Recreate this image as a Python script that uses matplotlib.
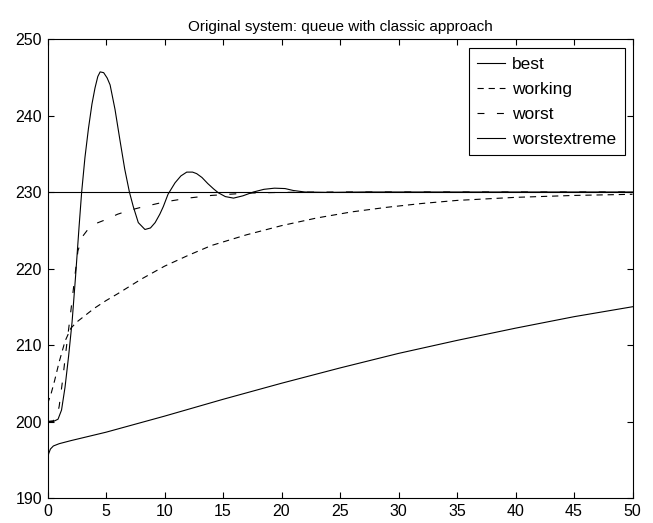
import numpy as np
import matplotlib
matplotlib.use("Agg")
import matplotlib.pyplot as plt

plt.rcParams['font.family'] = ['Liberation Sans', 'DejaVu Sans']
plt.rcParams['font.size'] = 11.5
plt.rcParams['lines.scale_dashes'] = False

# reference level (best case)
t_best = [0, 50]
best = [230, 230]

# working point
t_work = [0, 0.3, 0.6, 1.0, 1.5, 2.0, 2.5, 3, 4, 5, 6, 8, 10, 12, 14, 17,
          20, 23, 26, 29, 32, 35, 40, 45, 50]
working = [202.3, 203.6, 205.3, 207.8, 210.5, 212.2, 213.0, 213.6, 214.8,
           215.8, 216.7, 218.6, 220.3, 221.7, 223.0, 224.4, 225.6, 226.6,
           227.4, 228.0, 228.5, 228.9, 229.3, 229.55, 229.7]

# worst case
t_worst = [0, 0.5, 0.8, 1.0, 1.3, 1.6, 2.0, 2.3, 2.6, 3.0, 3.5, 4.0, 5.0,
           6.0, 7.0, 8.0, 10, 12, 14, 17, 20, 25, 50]
worst = [200, 200.1, 200.6, 202, 205.5, 209.5, 214.5, 218.5, 222.3, 224.2,
         225.2, 225.8, 226.4, 227.1, 227.6, 228.0, 228.7, 229.2, 229.55,
         229.85, 229.95, 230, 230]

# extreme case, oscillating
t_ext = [0, 0.5, 0.9, 1.2, 1.5, 1.8, 2.1, 2.4, 2.7, 2.92, 3.2, 3.5, 3.8,
         4.06, 4.3, 4.5, 4.8, 5.1, 5.35, 5.77, 6.2, 6.6, 7.0, 7.33, 7.76,
         8.33, 8.8, 9.2, 9.6, 9.9, 10.3, 10.9, 11.4, 11.9, 12.4, 12.75,
         13.2, 13.7, 14.2, 14.6, 15.2, 15.9, 16.7, 17.6, 18.5, 19.4, 20.3,
         21, 22, 24, 27, 50]
extreme = [200, 200, 200.3, 201.5, 204.5, 208.5, 213, 219, 225.5, 230,
           234.5, 238.3, 241.5, 243.6, 245.1, 245.7, 245.6, 244.9, 244.0,
           240.8, 236.7, 233, 230, 228.1, 226.0, 225.1, 225.3, 226.0, 227.1,
           228.1, 229.7, 231.2, 232.1, 232.6, 232.6, 232.4, 231.9, 231.1,
           230.4, 229.9, 229.4, 229.2, 229.5, 230.0, 230.35, 230.5, 230.45,
           230.2, 230.0, 229.95, 230.0, 230.0]

# slow response
t_slow = [0, 0.1, 0.25, 0.5, 1, 2, 5, 10, 15, 20, 25, 30, 35, 40, 45, 50]
slow = [195.0, 195.8, 196.4, 196.8, 197.1, 197.5, 198.6, 200.7, 202.9,
        205.0, 207.0, 208.9, 210.6, 212.2, 213.7, 215.0]

fig = plt.figure(figsize=(6.53, 5.23), dpi=100)
ax = fig.add_axes([47.5 / 653, 25 / 523, 585 / 653, 459 / 523])

lw = 0.8
ax.plot(t_best, best, color='k', lw=lw, label='best')
ax.plot(t_work, working, color='k', lw=lw, dashes=(4.5, 3.5), label='working')
ax.plot(t_worst, worst, color='k', lw=lw, dashes=(5, 9), label='worst')
ax.plot(t_ext, extreme, color='k', lw=lw, label='worstextreme')
ax.plot(t_slow, slow, color='k', lw=lw)

ax.set_xlim(0, 50)
ax.set_ylim(190, 250)
ax.set_xticks(np.arange(0, 51, 5))
ax.set_yticks(np.arange(190, 251, 10))
ax.tick_params(direction='in', top=True, right=True, length=4, width=0.8, pad=4)
for s in ax.spines.values():
    s.set_linewidth(0.8)

ax.set_title('Original system: queue with classic approach', fontsize=11, pad=6)

leg = ax.legend(loc='upper right', bbox_to_anchor=(0.987, 0.980),
                fontsize=12.5, fancybox=False, framealpha=1, edgecolor='k',
                handlelength=1.6, handletextpad=0.4, labelspacing=0.56,
                borderaxespad=0, borderpad=0.5)
leg.get_frame().set_linewidth(0.8)

fig.savefig('out.png', dpi=100)
